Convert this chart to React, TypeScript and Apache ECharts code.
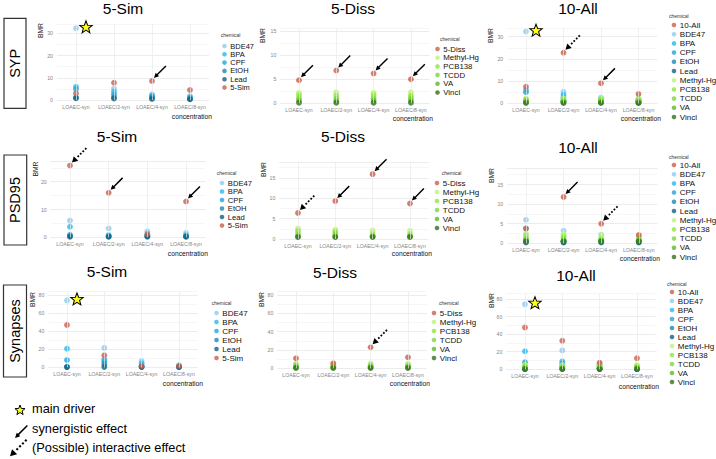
import React, { useEffect, useRef } from 'react';
import * as echarts from 'echarts';

const FONT = '"Liberation Sans", Arial, Helvetica, sans-serif';

// ---------------- data ----------------
const CATEGORIES = ['LOAEC-syn', 'LOAEC/2-syn', 'LOAEC/4-syn', 'LOAEC/8-syn'];
const SIM_CHEMICALS = ['BDE47', 'BPA', 'CPF', 'EtOH', 'Lead'];
const DISS_CHEMICALS = ['Methyl-Hg', 'PCB138', 'TCDD', 'VA', 'Vincl'];
const ALL_CHEMICALS = [...SIM_CHEMICALS, ...DISS_CHEMICALS];
const MIXTURES = ['5-Sim', '5-Diss', '10-All'];
const ENDPOINTS = ['SYP', 'PSD95', 'Synapses'];

// BMR of single chemicals (rows follow ALL_CHEMICALS, columns follow CATEGORIES)
const SYP_SINGLE = [
  [32.3, 5.2, 2.6, 1.8],
  [6.0, 3.8, 2.0, 1.4],
  [5.0, 2.6, 1.5, 0.9],
  [1.2, 1.3, 1.0, 0.5],
  [0.8, 0.7, 0.5, 0.3],
  [2.2, 2.3, 2.2, 2.3],
  [1.7, 1.6, 1.7, 1.6],
  [1.1, 1.0, 1.1, 1.1],
  [0.6, 0.5, 0.6, 0.6],
  [0.1, 0.1, 0.1, 0.1],
];
const PSD95_SINGLE = [
  [6.0, 3.2, 2.2, 1.6],
  [3.8, 0.8, 0.9, 0.8],
  [0.9, 0.5, 0.6, 0.5],
  [0.5, 0.3, 0.4, 0.3],
  [0.2, 0.2, 0.2, 0.2],
  [2.6, 2.3, 2.1, 2.0],
  [2.0, 1.8, 1.2, 1.2],
  [1.2, 1.2, 0.7, 0.7],
  [0.6, 0.6, 0.6, 0.6],
  [0.5, 0.5, 0.5, 0.5],
];
const SYNAPSES_SINGLE = [
  [74.0, 21.5, 7.0, 2.5],
  [20.5, 9.0, 4.5, 1.0],
  [8.0, 6.5, 1.2, 0.6],
  [0.6, 3.5, 0.5, 0.4],
  [0.2, 0.3, 0.2, 0.2],
  [5.2, 4.8, 5.2, 5.0],
  [3.8, 3.2, 3.5, 3.5],
  [2.2, 2.0, 2.2, 2.0],
  [1.0, 1.0, 1.0, 1.0],
  [0.3, 0.3, 0.3, 0.3],
];
// BMR of mixtures (rows follow MIXTURES)
const SYP_MIX = [
  [3.0, 7.8, 8.6, 4.5],
  [4.8, 6.8, 6.2, 5.0],
  [7.5, 22.8, 9.0, 4.2],
];
const PSD95_MIX = [
  [25.8, 16.0, 1.2, 12.9],
  [6.4, 9.3, 15.9, 8.7],
  [3.8, 11.8, 5.0, 2.1],
];
const SYNAPSES_MIX = [
  [46.8, 13.3, 1.5, 1.5],
  [10.9, 5.4, 22.9, 12.0],
  [47.5, 32.5, 7.5, 12.5],
];
const SINGLES = [SYP_SINGLE, PSD95_SINGLE, SYNAPSES_SINGLE];
const MIXES = [SYP_MIX, PSD95_MIX, SYNAPSES_MIX];

// annotations: [kind, series name, category index]; panels row-major
const MARKS_SYP = [
  [['star', 'BDE47', 0], ['arrow', '5-Sim', 2]],
  [['arrow', '5-Diss', 0], ['arrow', '5-Diss', 1], ['arrow', '5-Diss', 2], ['arrow', '5-Diss', 3]],
  [['star', 'BDE47', 0], ['dashed', '10-All', 1], ['arrow', '10-All', 2]],
];
const MARKS_PSD95 = [
  [['dashed', '5-Sim', 0], ['arrow', '5-Sim', 1], ['arrow', '5-Sim', 3]],
  [['dashed', '5-Diss', 0], ['arrow', '5-Diss', 1], ['arrow', '5-Diss', 2], ['arrow', '5-Diss', 3]],
  [['arrow', '10-All', 1], ['dashed', '10-All', 2]],
];
const MARKS_SYNAPSES = [
  [['star', 'BDE47', 0]],
  [['dashed', '5-Diss', 2]],
  [['star', 'BDE47', 0]],
];
const MARKS = [MARKS_SYP, MARKS_PSD95, MARKS_SYNAPSES];

const KEY_TEXTS = ['main driver', 'synergistic effect', '(Possible) interactive effect'];

// ---------------- styles ----------------
const CHEM_COLORS: Record<string, string> = {
  BDE47: '#90CCEE',
  BPA: '#2BB8EA',
  CPF: '#22A6D8',
  EtOH: '#1D88B4',
  Lead: '#14607F',
  'Methyl-Hg': '#BDF27A',
  PCB138: '#90E640',
  TCDD: '#7CD83A',
  VA: '#62B82C',
  Vincl: '#356F1F',
};
const MIX_COLOR = '#C8604C';

const ARROW_D = 'M0,20 L2.83,11.52 L4.81,13.5 L19.15,-0.85 L20.85,0.85 L6.5,15.19 L8.49,17.17 Z';
const DASHED_D =
  'M0,24 L2.47,15.16 L8.84,21.52 Z ' +
  'M8.84,13.36 L10.64,15.16 L8.84,16.96 L7.04,15.16 Z ' +
  'M12.37,9.83 L14.17,11.63 L12.37,13.43 L10.57,11.63 Z ' +
  'M15.91,6.29 L17.71,8.09 L15.91,9.89 L14.11,8.09 Z ' +
  'M19.45,2.75 L21.25,4.55 L19.45,6.35 L17.65,4.55 Z';
const STAR_D =
  'M10,0 L12.47,6.6 L19.51,6.91 L13.99,11.3 L15.88,18.09 L10,14.2 L4.12,18.09 L6.01,11.3 L0.49,6.91 L7.53,6.6 Z';

echarts.graphic.registerShape('keyArrow', echarts.graphic.extendPath(ARROW_D, {}));
echarts.graphic.registerShape('keyDashed', echarts.graphic.extendPath(DASHED_D, {}));
echarts.graphic.registerShape('keyStar', echarts.graphic.extendPath(STAR_D, {}));

// layout of the 9 panels (row-major)
const LAYOUT = [
  { left: 57, spacing: 38, y0: 100, ppu: 2.22, ymax: 33.9, major: 10, tX: 123, tY: 8.5, bX: 40, bY: 23, dotX: 224.5, legY: 46, legGap: 8.3, chX: 220.7, chY: 35, cX: 212, cY: 116 },
  { left: 280.35, spacing: 37.3, y0: 103.3, ppu: 4.82, ymax: 15.6, major: 5, tX: 353, tY: 8.5, bX: 262, bY: 28, dotX: 437.5, legY: 49, legGap: 8.7, chX: 440, chY: 39, cX: 433, cY: 118 },
  { left: 507.25, spacing: 37.5, y0: 103.3, ppu: 2.22, ymax: 34, major: 10, tX: 578, tY: 8.5, bX: 490, bY: 28, dotX: 674, legY: 25, legGap: 9.2, chX: 669, chY: 16, cX: 661, cY: 118 },
  { left: 50.67, spacing: 38.67, y0: 237.3, ppu: 2.78, ymax: 27.3, major: 10, tX: 117, tY: 136, bX: 35, bY: 161.5, dotX: 222, legY: 183, legGap: 8.5, chX: 216.7, chY: 173, cX: 208, cY: 253 },
  { left: 279.3, spacing: 37.33, y0: 239, ppu: 4.08, ymax: 18.9, major: 5, tX: 343, tY: 136, bX: 263, bY: 162, dotX: 437, legY: 183, legGap: 9, chX: 441.7, chY: 173, cX: 432, cY: 253 },
  { left: 507.2, spacing: 37.6, y0: 243.3, ppu: 3.92, ymax: 19.1, major: 5, tX: 578, tY: 147, bX: 491, bY: 168, dotX: 674, legY: 165, legGap: 9.2, chX: 669, chY: 157, cX: 660, cY: 258 },
  { left: 48.3, spacing: 37.33, y0: 367.3, ppu: 0.904, ymax: 83.6, major: 20, tX: 107, tY: 271, bX: 32, bY: 292, dotX: 216.5, legY: 313, legGap: 9, chX: 211.7, chY: 303, cX: 203, cY: 383 },
  { left: 277.3, spacing: 37.33, y0: 368.3, ppu: 0.916, ymax: 83.6, major: 20, tX: 335, tY: 272, bX: 261, bY: 292, dotX: 434, legY: 313, legGap: 9, chX: 439, chY: 303, cX: 430, cY: 383 },
  { left: 506.3, spacing: 37.33, y0: 369.3, ppu: 0.88, ymax: 86, major: 20, tX: 576, tY: 275, bX: 491, bY: 293, dotX: 672, legY: 292, legGap: 9, chX: 667, chY: 284, cX: 659, cY: 386 },
];
const ROW_BOXES = [
  { x: 4, y: 18.3, w: 22, h: 90 },
  { x: 4, y: 155, w: 22.7, h: 90 },
  { x: 3.5, y: 285, w: 23, h: 92 },
];

function seriesValues(ep: number, name: string): number[] {
  const ci = ALL_CHEMICALS.indexOf(name);
  if (ci >= 0) return SINGLES[ep][ci];
  return MIXES[ep][MIXTURES.indexOf(name)];
}

function markItem(kind: string, cat: number, value: number) {
  const coord = [CATEGORIES[cat], value];
  if (kind === 'star') {
    return {
      coord,
      symbol: 'path://' + STAR_D,
      symbolSize: [12.5, 12],
      symbolOffset: [10, -1.5],
      itemStyle: { color: '#FFFF1A', borderColor: '#000', borderWidth: 1 },
    };
  }
  if (kind === 'dashed') {
    return {
      coord,
      symbol: 'path://' + DASHED_D,
      symbolSize: [15, 15],
      symbolOffset: [9.5, -10.5],
      itemStyle: { color: '#000', borderWidth: 0 },
    };
  }
  return {
    coord,
    symbol: 'path://' + ARROW_D,
    symbolSize: [12.5, 12.5],
    symbolOffset: [8.2, -9.2],
    itemStyle: { color: '#000', borderWidth: 0 },
  };
}

function buildOption() {
  const grid: any[] = [];
  const xAxis: any[] = [];
  const yAxis: any[] = [];
  const series: any[] = [];
  const legend: any[] = [];
  const graphic: any[] = [];

  LAYOUT.forEach((p, i) => {
    const ep = Math.floor(i / 3);
    const mi = i % 3;
    const mix = MIXTURES[mi];
    const chems = mi === 0 ? SIM_CHEMICALS : mi === 1 ? DISS_CHEMICALS : ALL_CHEMICALS;
    const legendNames = mi === 0 ? [...chems, mix] : [mix, ...chems];
    const top = p.y0 - p.ymax * p.ppu;

    grid.push({ left: p.left, top, width: p.spacing * 4, height: p.y0 - top, containLabel: false });
    xAxis.push({
      type: 'category',
      gridIndex: i,
      data: CATEGORIES,
      boundaryGap: true,
      axisLine: { show: false },
      axisTick: { show: false },
      splitLine: { show: false },
      axisLabel: { interval: 0, fontSize: 5.2, color: '#858585', margin: 4, fontFamily: FONT },
    });
    yAxis.push({
      type: 'value',
      gridIndex: i,
      min: 0,
      max: p.ymax,
      interval: p.major / 2,
      axisLine: { show: false },
      axisTick: { show: false },
      splitLine: { show: true, lineStyle: { color: ['#E4E4E4', '#F2F2F2'], width: 0.7 } },
      axisLabel: {
        fontSize: 5.2,
        color: '#858585',
        margin: 4,
        fontFamily: FONT,
        formatter: (v: number) => {
          const r = v / p.major;
          return Math.abs(r - Math.round(r)) < 1e-6 ? String(Math.round(v)) : '';
        },
      },
    });

    // vertical grid lines at category positions
    series.push({
      type: 'scatter',
      xAxisIndex: i,
      yAxisIndex: i,
      data: [],
      silent: true,
      z: 1,
      markLine: {
        silent: true,
        symbol: ['none', 'none'],
        label: { show: false },
        emphasis: { disabled: true },
        lineStyle: { color: '#EAEAEA', width: 0.7, type: 'solid' },
        data: CATEGORIES.map((c) => ({ xAxis: c })),
      },
    });

    chems.forEach((c) => {
      series.push({
        type: 'scatter',
        name: c,
        xAxisIndex: i,
        yAxisIndex: i,
        data: seriesValues(ep, c),
        symbol: 'circle',
        symbolSize: 5.8,
        itemStyle: { color: CHEM_COLORS[c] },
        silent: true,
        z: 3,
      });
    });

    const marks = MARKS[ep][mi].map(([kind, name, cat]: any) =>
      markItem(kind, cat, seriesValues(ep, name)[cat])
    );
    series.push({
      type: 'scatter',
      name: mix,
      xAxisIndex: i,
      yAxisIndex: i,
      data: seriesValues(ep, mix),
      symbol: 'circle',
      symbolSize: 5.8,
      itemStyle: { color: MIX_COLOR },
      silent: true,
      z: 3,
      markPoint: {
        silent: true,
        label: { show: false },
        emphasis: { disabled: true },
        data: marks,
      },
    });

    const dot = 4.6;
    legend.push({
      orient: 'vertical',
      left: p.dotX - dot / 2,
      top: p.legY - p.legGap / 2,
      padding: 0,
      itemGap: 0,
      itemWidth: dot,
      itemHeight: dot,
      icon: 'circle',
      selectedMode: false,
      data: legendNames,
      textStyle: {
        fontSize: Math.min(p.legGap * 0.9, 8),
        lineHeight: p.legGap,
        color: '#111',
        fontFamily: FONT,
        padding: [0, 0, 0, -1.5],
      },
    });

    graphic.push(
      {
        type: 'text',
        x: p.tX,
        y: p.tY,
        silent: true,
        style: { text: mix, fontSize: 15.5, fontFamily: FONT, fill: '#000', align: 'center', verticalAlign: 'middle' },
      },
      {
        type: 'text',
        x: p.bX,
        y: p.bY,
        rotation: Math.PI / 2,
        silent: true,
        style: { text: 'BMR', fontSize: 6.8, fontFamily: FONT, fill: '#222', align: 'right', verticalAlign: 'middle' },
      },
      {
        type: 'text',
        x: p.chX,
        y: p.chY,
        silent: true,
        style: { text: 'chemical', fontSize: 5, fontFamily: FONT, fill: '#333', align: 'left', verticalAlign: 'middle' },
      },
      {
        type: 'text',
        x: p.cX,
        y: p.cY,
        silent: true,
        style: { text: 'concentration', fontSize: 6.7, fontFamily: FONT, fill: '#111', align: 'right', verticalAlign: 'middle' },
      }
    );
  });

  ROW_BOXES.forEach((b, r) => {
    graphic.push(
      {
        type: 'rect',
        silent: true,
        shape: { x: b.x, y: b.y, width: b.w, height: b.h },
        style: { fill: '#fff', stroke: '#333', lineWidth: 1.2 },
      },
      {
        type: 'text',
        x: b.x + b.w / 2,
        y: b.y + b.h / 2,
        rotation: Math.PI / 2,
        silent: true,
        style: { text: ENDPOINTS[r], fontSize: 14.5, fontFamily: FONT, fill: '#000', align: 'center', verticalAlign: 'middle' },
      }
    );
  });

  // key at the bottom
  graphic.push(
    {
      type: 'keyStar',
      x: 14.7,
      y: 405,
      scaleX: 0.53,
      scaleY: 0.53,
      silent: true,
      style: { fill: '#FFFF1A', stroke: '#000', lineWidth: 1, strokeNoScale: true },
    },
    {
      type: 'keyArrow',
      x: 15,
      y: 425.5,
      scaleX: 0.62,
      scaleY: 0.62,
      silent: true,
      style: { fill: '#000' },
    },
    {
      type: 'keyDashed',
      x: 10,
      y: 436.8,
      scaleX: 0.814,
      scaleY: 0.814,
      silent: true,
      style: { fill: '#000' },
    }
  );
  [408, 428.5, 447].forEach((y, k) => {
    graphic.push({
      type: 'text',
      x: 32,
      y,
      silent: true,
      style: { text: KEY_TEXTS[k], fontSize: 12.8, fontFamily: FONT, fill: '#000', align: 'left', verticalAlign: 'middle' },
    });
  });

  return {
    animation: false,
    backgroundColor: '#fff',
    textStyle: { fontFamily: FONT },
    grid,
    xAxis,
    yAxis,
    legend,
    series,
    graphic,
  };
}

export default function App() {
  const ref = useRef<HTMLDivElement>(null);
  useEffect(() => {
    if (!ref.current) return;
    const chart = echarts.init(ref.current, undefined, { renderer: 'svg' });
    chart.setOption(buildOption());
    return () => {
      chart.dispose();
    };
  }, []);
  return (
    <div
      ref={ref}
      style={{ position: 'absolute', left: 0, top: 0, width: 716, height: 459, background: '#fff' }}
    />
  );
}
